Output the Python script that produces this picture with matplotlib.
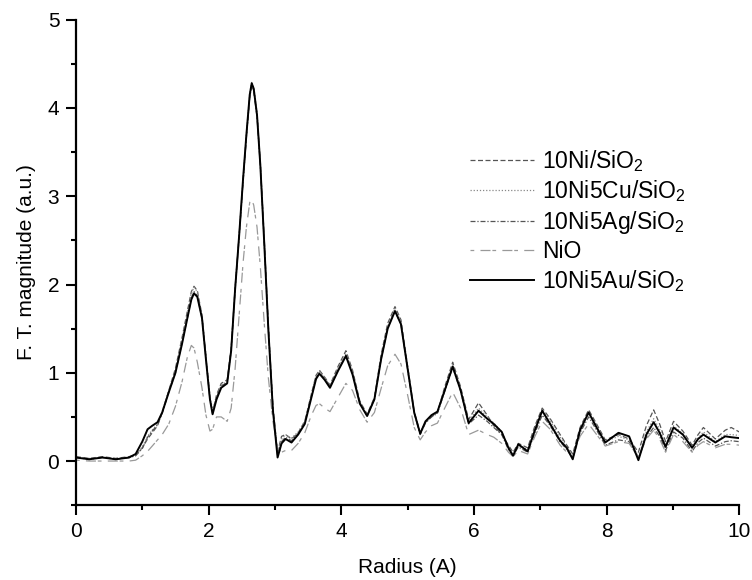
import matplotlib
matplotlib.use("Agg")
import matplotlib.pyplot as plt
from matplotlib.ticker import MultipleLocator

plt.rcParams['font.family'] = ['Liberation Sans', 'DejaVu Sans']
plt.rcParams['mathtext.fontset'] = 'custom'
plt.rcParams['mathtext.rm'] = 'Liberation Sans'

# radius grid (A), shared by all spectra
radius = [0.0, 0.2, 0.4, 0.6, 0.8, 0.9, 1.0, 1.08, 1.15, 1.23,
          1.3, 1.4, 1.5, 1.6, 1.68, 1.74, 1.78, 1.83, 1.9, 1.96,
          2.02, 2.06, 2.12, 2.19, 2.28, 2.34, 2.4, 2.46, 2.52, 2.57,
          2.62, 2.65, 2.68, 2.73, 2.78, 2.84, 2.9, 2.97, 3.04, 3.1,
          3.16, 3.25, 3.35, 3.45, 3.55, 3.62, 3.67, 3.75, 3.83, 3.95,
          4.07, 4.17, 4.28, 4.39, 4.5, 4.6, 4.7, 4.81, 4.9, 5.0,
          5.1, 5.19, 5.27, 5.36, 5.45, 5.56, 5.68, 5.8, 5.92, 6.07,
          6.2, 6.3, 6.42, 6.52, 6.59, 6.67, 6.81, 6.92, 7.03, 7.15,
          7.3, 7.4, 7.49, 7.6, 7.73, 7.85, 7.98, 8.18, 8.34, 8.48,
          8.6, 8.71, 8.8, 8.89, 9.01, 9.15, 9.29, 9.38, 9.46, 9.64,
          9.79, 9.88, 10.0]

ni = [0.05, 0.03, 0.05, 0.03, 0.05, 0.07, 0.15, 0.25, 0.32, 0.40,
      0.55, 0.80, 1.05, 1.40, 1.70, 1.92, 1.98, 1.93, 1.65, 1.18,
      0.72, 0.55, 0.75, 0.88, 0.92, 1.28, 1.97, 2.55, 3.18, 3.68,
      4.13, 4.27, 4.21, 3.93, 3.38, 2.50, 1.55, 0.62, 0.10, 0.28,
      0.30, 0.25, 0.32, 0.45, 0.76, 0.97, 1.03, 0.95, 0.86, 1.07,
      1.25, 1.03, 0.68, 0.53, 0.72, 1.20, 1.56, 1.75, 1.60, 1.08,
      0.56, 0.32, 0.44, 0.50, 0.55, 0.84, 1.12, 0.84, 0.47, 0.66,
      0.52, 0.40, 0.30, 0.18, 0.10, 0.20, 0.15, 0.40, 0.60, 0.48,
      0.30, 0.18, 0.08, 0.38, 0.58, 0.42, 0.24, 0.30, 0.25, 0.10,
      0.40, 0.58, 0.42, 0.22, 0.45, 0.34, 0.18, 0.30, 0.38, 0.25,
      0.35, 0.38, 0.33]

cu = [0.04, 0.03, 0.04, 0.03, 0.04, 0.06, 0.16, 0.28, 0.35, 0.42,
      0.56, 0.80, 1.03, 1.38, 1.68, 1.90, 1.97, 1.92, 1.66, 1.20,
      0.74, 0.57, 0.74, 0.86, 0.90, 1.27, 1.96, 2.56, 3.20, 3.71,
      4.16, 4.30, 4.23, 3.95, 3.38, 2.48, 1.52, 0.60, 0.08, 0.25,
      0.30, 0.26, 0.33, 0.45, 0.76, 0.97, 1.02, 0.95, 0.85, 1.05,
      1.22, 1.01, 0.67, 0.52, 0.71, 1.17, 1.53, 1.73, 1.58, 1.06,
      0.55, 0.31, 0.44, 0.51, 0.55, 0.82, 1.10, 0.82, 0.45, 0.60,
      0.50, 0.43, 0.33, 0.16, 0.08, 0.18, 0.13, 0.37, 0.58, 0.46,
      0.27, 0.17, 0.05, 0.36, 0.56, 0.40, 0.22, 0.28, 0.24, 0.05,
      0.33, 0.48, 0.36, 0.18, 0.40, 0.31, 0.15, 0.26, 0.33, 0.22,
      0.30, 0.30, 0.29]

ag = [0.04, 0.02, 0.04, 0.02, 0.04, 0.06, 0.14, 0.27, 0.34, 0.41,
      0.54, 0.78, 1.00, 1.34, 1.62, 1.84, 1.92, 1.87, 1.62, 1.16,
      0.70, 0.54, 0.72, 0.85, 0.89, 1.25, 1.94, 2.53, 3.17, 3.67,
      4.12, 4.25, 4.19, 3.90, 3.34, 2.45, 1.50, 0.58, 0.06, 0.22,
      0.27, 0.23, 0.31, 0.43, 0.73, 0.94, 1.00, 0.93, 0.84, 1.03,
      1.20, 0.99, 0.66, 0.51, 0.70, 1.15, 1.51, 1.70, 1.55, 1.04,
      0.54, 0.30, 0.43, 0.50, 0.54, 0.79, 1.06, 0.79, 0.42, 0.52,
      0.45, 0.38, 0.30, 0.13, 0.06, 0.16, 0.10, 0.32, 0.52, 0.40,
      0.22, 0.13, 0.03, 0.32, 0.50, 0.35, 0.18, 0.24, 0.22, 0.03,
      0.27, 0.38, 0.28, 0.12, 0.33, 0.26, 0.11, 0.21, 0.26, 0.17,
      0.22, 0.23, 0.22]

nio = [0.01, 0.00, 0.00, 0.00, 0.00, 0.01, 0.06, 0.11, 0.17, 0.24,
       0.30, 0.42, 0.62, 0.90, 1.18, 1.31, 1.28, 1.12, 0.83, 0.52,
       0.34, 0.36, 0.50, 0.50, 0.45, 0.60, 1.05, 1.65, 2.25, 2.65,
       2.93, 2.96, 2.90, 2.65, 2.20, 1.55, 0.95, 0.45, 0.15, 0.10,
       0.12, 0.12, 0.20, 0.32, 0.52, 0.63, 0.65, 0.60, 0.56, 0.72,
       0.88, 0.80, 0.58, 0.44, 0.55, 0.82, 1.08, 1.21, 1.10, 0.75,
       0.38, 0.24, 0.33, 0.40, 0.43, 0.60, 0.78, 0.60, 0.30, 0.35,
       0.30, 0.27, 0.20, 0.10, 0.05, 0.12, 0.08, 0.28, 0.45, 0.36,
       0.18, 0.10, 0.04, 0.28, 0.42, 0.30, 0.17, 0.22, 0.20, 0.04,
       0.25, 0.35, 0.25, 0.10, 0.30, 0.22, 0.10, 0.18, 0.22, 0.15,
       0.19, 0.19, 0.18]

au = [0.04, 0.02, 0.04, 0.02, 0.04, 0.08, 0.22, 0.36, 0.40, 0.44,
      0.55, 0.78, 1.00, 1.33, 1.62, 1.83, 1.90, 1.86, 1.62, 1.15,
      0.70, 0.53, 0.70, 0.83, 0.88, 1.25, 1.95, 2.55, 3.20, 3.70,
      4.15, 4.28, 4.22, 3.92, 3.35, 2.45, 1.50, 0.57, 0.04, 0.20,
      0.25, 0.21, 0.30, 0.42, 0.72, 0.93, 0.99, 0.92, 0.83, 1.02,
      1.19, 0.98, 0.65, 0.51, 0.70, 1.15, 1.50, 1.70, 1.55, 1.05,
      0.55, 0.31, 0.45, 0.52, 0.56, 0.80, 1.07, 0.80, 0.43, 0.57,
      0.48, 0.42, 0.33, 0.15, 0.06, 0.19, 0.11, 0.35, 0.57, 0.42,
      0.23, 0.15, 0.02, 0.35, 0.55, 0.38, 0.21, 0.32, 0.28, 0.01,
      0.30, 0.44, 0.32, 0.16, 0.38, 0.30, 0.15, 0.25, 0.30, 0.21,
      0.28, 0.27, 0.26]

labels = ['10Ni/SiO$_2$', '10Ni5Cu/SiO$_2$', '10Ni5Ag/SiO$_2$', 'NiO', '10Ni5Au/SiO$_2$']

fig = plt.figure(figsize=(7.52, 5.8), dpi=100)
ax = fig.add_axes([0.101, 0.129, 0.882, 0.837])

ax.plot(radius, ni, color='#555555', lw=0.9, ls=(0, (4, 2)), label=labels[0])
ax.plot(radius, cu, color='#888888', lw=0.9, ls=(0, (1, 1.5)), label=labels[1])
ax.plot(radius, ag, color='#555555', lw=0.9, ls=(0, (4, 1.5, 1, 1.5)), label=labels[2])
ax.plot(radius, nio, color='#999999', lw=0.9, ls=(0, (3, 5, 8, 1.5)), label=labels[3])
ax.plot(radius, au, color='black', lw=1.4, ls='-', label=labels[4])

ax.set_xlim(0, 10)
ax.set_ylim(-0.5, 5)
ax.xaxis.set_major_locator(MultipleLocator(2))
ax.xaxis.set_minor_locator(MultipleLocator(1))
ax.yaxis.set_major_locator(MultipleLocator(1))
ax.yaxis.set_minor_locator(MultipleLocator(0.5))
for s in ['top', 'right']:
    ax.spines[s].set_visible(False)
for s in ['left', 'bottom']:
    ax.spines[s].set_linewidth(1.6)
ax.tick_params(which='major', direction='out', length=7, width=1.5, labelsize=15, pad=5)
ax.tick_params(which='minor', direction='out', length=3.5, width=1.5)

ax.set_xlabel('Radius (A)', fontsize=15, labelpad=12)
ax.set_ylabel('F. T. magnitude (a.u.)', fontsize=15, labelpad=8)

leg = ax.legend(loc='upper left', bbox_to_anchor=(0.625, 0.745),
                bbox_transform=fig.transFigure, frameon=False, fontsize=16.5,
                handlelength=2.8, handletextpad=0.35, labelspacing=0.2,
                borderpad=0, borderaxespad=0)

fig.savefig('out.png', dpi=100)
